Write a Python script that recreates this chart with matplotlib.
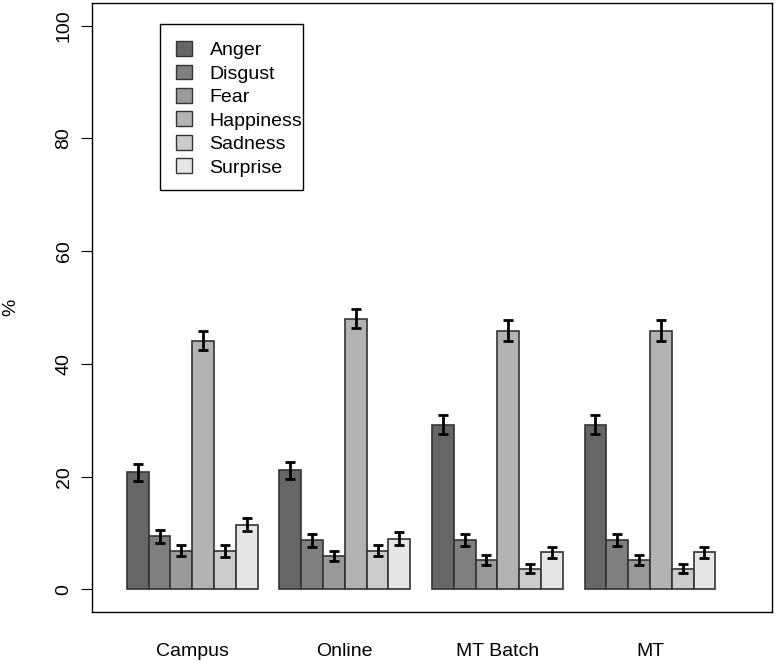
import numpy as np
import matplotlib
matplotlib.use("Agg")
import matplotlib.pyplot as plt
from matplotlib.patches import Patch, Rectangle

plt.rcParams["font.family"] = ["Liberation Sans", "DejaVu Sans"]

groups = ["Campus", "Online", "MT Batch", "MT"]
emotions = ["Anger", "Disgust", "Fear", "Happiness", "Sadness", "Surprise"]
colors = ["#666666", "#7f7f7f", "#999999", "#b3b3b3", "#cccccc", "#e6e6e6"]

# percent per emotion, one list per group
campus = [20.8, 9.4, 6.9, 44.1, 6.8, 11.5]
online = [21.1, 8.7, 5.9, 48.0, 6.9, 9.0]
mt_batch = [29.2, 8.8, 5.2, 45.9, 3.7, 6.6]
mt = [29.2, 8.8, 5.2, 45.9, 3.7, 6.6]

campus_err = [1.5, 1.1, 1.0, 1.7, 1.0, 1.2]
online_err = [1.5, 1.1, 0.9, 1.7, 1.0, 1.1]
mt_batch_err = [1.7, 1.1, 0.9, 1.8, 0.8, 1.0]
mt_err = [1.7, 1.1, 0.9, 1.8, 0.8, 1.0]

values = [campus, online, mt_batch, mt]
errors = [campus_err, online_err, mt_batch_err, mt_err]

fig = plt.figure(figsize=(7.77, 6.62), dpi=100)
ax = fig.add_axes([92 / 777, 50 / 662, 680 / 777, 609 / 662])

n = len(emotions)
for g, (vals, errs) in enumerate(zip(values, errors)):
    start = g * (n + 1) + 1
    x = start + np.arange(n) + 0.5
    ax.bar(x, vals, width=1.0, color=colors, edgecolor="#333333", linewidth=1.2)
    ax.errorbar(x, vals, yerr=errs, fmt="none", ecolor="black",
                elinewidth=2, capsize=3.5, capthick=2)

centers = [g * (n + 1) + 1 + n / 2 for g in range(len(groups))]
ax.set_xticks(centers)
ax.set_xticklabels(groups, fontsize=14)
ax.tick_params(axis="x", length=0, pad=22)

ax.set_yticks([0, 20, 40, 60, 80, 100])
ax.set_yticklabels(["0", "20", "40", "60", "80", "100"], rotation=90,
                   va="center", fontsize=14)
ax.tick_params(axis="y", length=8, width=0.8, pad=6)
ax.set_ylabel("%", fontsize=14, labelpad=26)

ax.set_xlim(-0.6, 30.6)
ax.set_ylim(-4, 104)
for s in ax.spines.values():
    s.set_linewidth(1.0)

# legend: entries without frame, box drawn separately (R style, tight on the right)
handles = [Patch(facecolor=c, edgecolor="#333333", linewidth=1.0) for c in colors]
ax.legend(handles, emotions, loc="upper left", bbox_to_anchor=(0.099, 0.9655),
          fontsize=14, frameon=False,
          handlelength=0.8, handleheight=0.8, handletextpad=0.9,
          labelspacing=0.27, borderpad=0.88, borderaxespad=0)
ax.add_patch(Rectangle((0.1, 0.693), 0.2103, 0.2725, transform=ax.transAxes,
                       fill=False, edgecolor="black", linewidth=1.0))

fig.savefig("out.png", dpi=100)
